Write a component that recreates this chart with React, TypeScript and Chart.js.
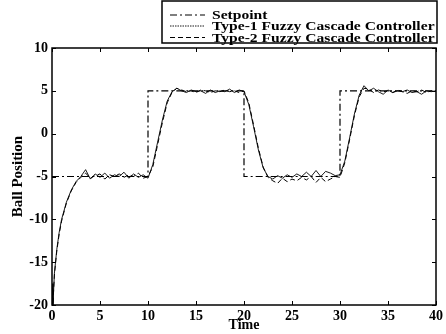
import React, { useEffect, useRef } from "react";
import { Chart, registerables } from "chart.js";

Chart.register(...registerables);

const times = [0, 0.1, 0.25, 0.5, 0.75, 1, 1.5, 2, 2.5, 3, 3.5, 4, 4.5, 5, 5.5, 6, 6.5, 7, 7.5, 8, 8.5, 9, 9.5, 10, 10.5, 11, 11.5, 12, 12.5, 13, 13.5, 14, 14.5, 15, 15.5, 16, 16.5, 17, 17.5, 18, 18.5, 19, 19.5, 20, 20.5, 21, 21.5, 22, 22.5, 23, 23.5, 24, 24.5, 25, 25.5, 26, 26.5, 27, 27.5, 28, 28.5, 29, 29.5, 30, 30.5, 31, 31.5, 32, 32.5, 33, 33.5, 34, 34.5, 35, 35.5, 36, 36.5, 37, 37.5, 38, 38.5, 39, 39.5, 40];

const type1 = [-17.5, -20, -16.3, -13.5, -11.5, -10.0, -8.0, -6.6, -5.6, -5.0, -4.2, -5.3, -4.7, -5.1, -4.6, -5.2, -4.8, -5.0, -4.5, -5.2, -4.7, -5.1, -4.8, -5.2, -3.6, -1.0, 1.6, 3.8, 4.9, 5.3, 5.0, 4.8, 5.1, 4.9, 5.0, 4.7, 5.1, 4.8, 5.0, 4.9, 5.2, 4.8, 5.1, 4.9, 3.4, 0.8, -1.9, -4.0, -5.0, -5.3, -4.9, -5.2, -4.8, -5.1, -4.7, -5.0, -4.5, -5.0, -4.3, -5.0, -4.4, -4.6, -4.9, -4.8, -3.2, -0.5, 2.3, 4.5, 5.6, 5.0, 5.3, 4.9, 4.6, 5.1, 4.8, 5.0, 4.9, 5.1, 4.8, 4.9, 4.6, 5.0, 4.9, 5.0];

const type2 = [-18, -19.8, -16.5, -13.7, -11.7, -10.2, -8.1, -6.7, -5.7, -5.1, -4.6, -5.2, -4.9, -4.7, -5.3, -4.8, -5.0, -4.7, -5.1, -4.8, -5.0, -4.6, -5.2, -5.0, -3.9, -1.3, 1.3, 3.6, 4.8, 5.3, 5.1, 4.9, 5.0, 4.8, 5.1, 5.0, 4.8, 5.0, 4.9, 5.1, 4.9, 5.0, 4.8, 5.0, 3.6, 1.0, -1.7, -3.9, -5.1, -5.5, -5.8, -5.2, -5.6, -5.3, -5.5, -5.1, -5.4, -5.0, -5.7, -5.1, -5.6, -5.3, -5.0, -5.1, -3.4, -0.7, 2.1, 4.3, 5.3, 5.2, 4.8, 5.1, 4.9, 5.0, 4.8, 5.1, 4.9, 4.7, 5.0, 4.9, 5.1, 4.8, 5.0, 4.9];

const setpointTimes = [0, 10, 10, 20, 20, 30, 30, 40];
const setpointValues = [-5, -5, 5, 5, -5, -5, 5, 5];

const seriesNames = ["Setpoint", "Type-1 Fuzzy Cascade Controller", "Type-2 Fuzzy Cascade Controller"];
const xTicks = [0, 5, 10, 15, 20, 25, 30, 35, 40];
const yTicks = [-20, -15, -10, -5, 0, 5, 10];

const FONT = "'Liberation Serif', 'Times New Roman', serif";

const dashes = [[7, 3, 2, 3], [], [5, 3]];
const widths = [1.2, 0.9, 1];

const framePlugin = {
  id: "frame",
  afterDatasetsDraw(chart: any) {
    const { ctx, chartArea: a, scales } = chart;
    ctx.save();
    ctx.strokeStyle = "#000";
    ctx.lineWidth = 1.5;
    ctx.setLineDash([]);
    ctx.strokeRect(a.left, a.top, a.right - a.left, a.bottom - a.top);
    ctx.lineWidth = 1;
    const tl = 4;
    ctx.beginPath();
    for (const v of xTicks) {
      const px = Math.round(scales.x.getPixelForValue(v)) + 0.5;
      ctx.moveTo(px, a.bottom);
      ctx.lineTo(px, a.bottom - tl);
      ctx.moveTo(px, a.top);
      ctx.lineTo(px, a.top + tl);
    }
    for (const v of yTicks) {
      const py = Math.round(scales.y.getPixelForValue(v)) + 0.5;
      ctx.moveTo(a.left, py);
      ctx.lineTo(a.left + tl, py);
      ctx.moveTo(a.right, py);
      ctx.lineTo(a.right - tl, py);
    }
    ctx.stroke();

    // legend box
    const bx = 162, by = 1, bw = 275, bh = 42;
    ctx.fillStyle = "#fff";
    ctx.fillRect(bx, by, bw, bh);
    ctx.lineWidth = 1.5;
    ctx.strokeRect(bx, by, bw, bh);
    ctx.font = "bold 13px " + FONT;
    ctx.fillStyle = "#000";
    ctx.textBaseline = "alphabetic";
    ctx.textAlign = "left";
    const rowsY = [15, 26, 37.5];
    seriesNames.forEach((name, i) => {
      const y = rowsY[i];
      ctx.beginPath();
      ctx.lineWidth = widths[i];
      ctx.setLineDash(i === 1 ? [1.5, 1] : dashes[i]);
      ctx.moveTo(170, y);
      ctx.lineTo(205, y);
      ctx.stroke();
      ctx.setLineDash([]);
      ctx.save();
      ctx.translate(212, y + 4);
      ctx.scale(1.2, 1);
      ctx.fillText(name, 0, 0);
      ctx.restore();
    });
    ctx.restore();
  },
};

export default function App() {
  const ref = useRef<HTMLCanvasElement>(null);
  useEffect(() => {
    if (!ref.current) return;
    const mk = (xs: number[], ys: number[]) => xs.map((x, i) => ({ x, y: ys[i] }));
    const chart = new Chart(ref.current, {
      type: "line",
      data: {
        datasets: [
          { label: seriesNames[0], data: mk(setpointTimes, setpointValues), borderColor: "#000", borderWidth: widths[0], borderDash: dashes[0], pointRadius: 0, tension: 0, fill: false },
          { label: seriesNames[1], data: mk(times, type1), borderColor: "#000", borderWidth: widths[1], borderDash: dashes[1], pointRadius: 0, tension: 0, fill: false },
          { label: seriesNames[2], data: mk(times, type2), borderColor: "#000", borderWidth: widths[2], borderDash: dashes[2], pointRadius: 0, tension: 0, fill: false },
        ],
      },
      options: {
        animation: false,
        responsive: true,
        maintainAspectRatio: false,
        layout: { padding: { left: 0, top: 48, right: 7, bottom: 0 } },
        plugins: { legend: { display: false }, tooltip: { enabled: false } },
        scales: {
          x: {
            type: "linear",
            min: 0,
            max: 40,
            grid: { display: false, drawTicks: false },
            border: { display: false },
            ticks: { stepSize: 5, color: "#000", padding: 3, font: { family: FONT, size: 14, weight: "bold" }, maxRotation: 0 },
            title: { display: true, text: "Time", color: "#000", font: { family: FONT, size: 14, weight: "bold" }, padding: { top: 0, bottom: 0 } },
            afterFit: (s: any) => { s.height = 29; },
          },
          y: {
            type: "linear",
            min: -20,
            max: 10,
            grid: { display: false, drawTicks: false },
            border: { display: false },
            ticks: { stepSize: 5, color: "#000", padding: 4, font: { family: FONT, size: 14, weight: "bold" } },
            title: { display: true, text: "Ball Position", color: "#000", font: { family: FONT, size: 15, weight: "bold" }, padding: { top: 9, bottom: 0 } },
            afterFit: (s: any) => { s.width = 52; },
          },
        },
      },
      plugins: [framePlugin],
    });
    return () => chart.destroy();
  }, []);
  return (
    <div style={{ position: "absolute", left: 0, top: 0, width: 446, height: 334, background: "#fff" }}>
      <canvas ref={ref} />
    </div>
  );
}
